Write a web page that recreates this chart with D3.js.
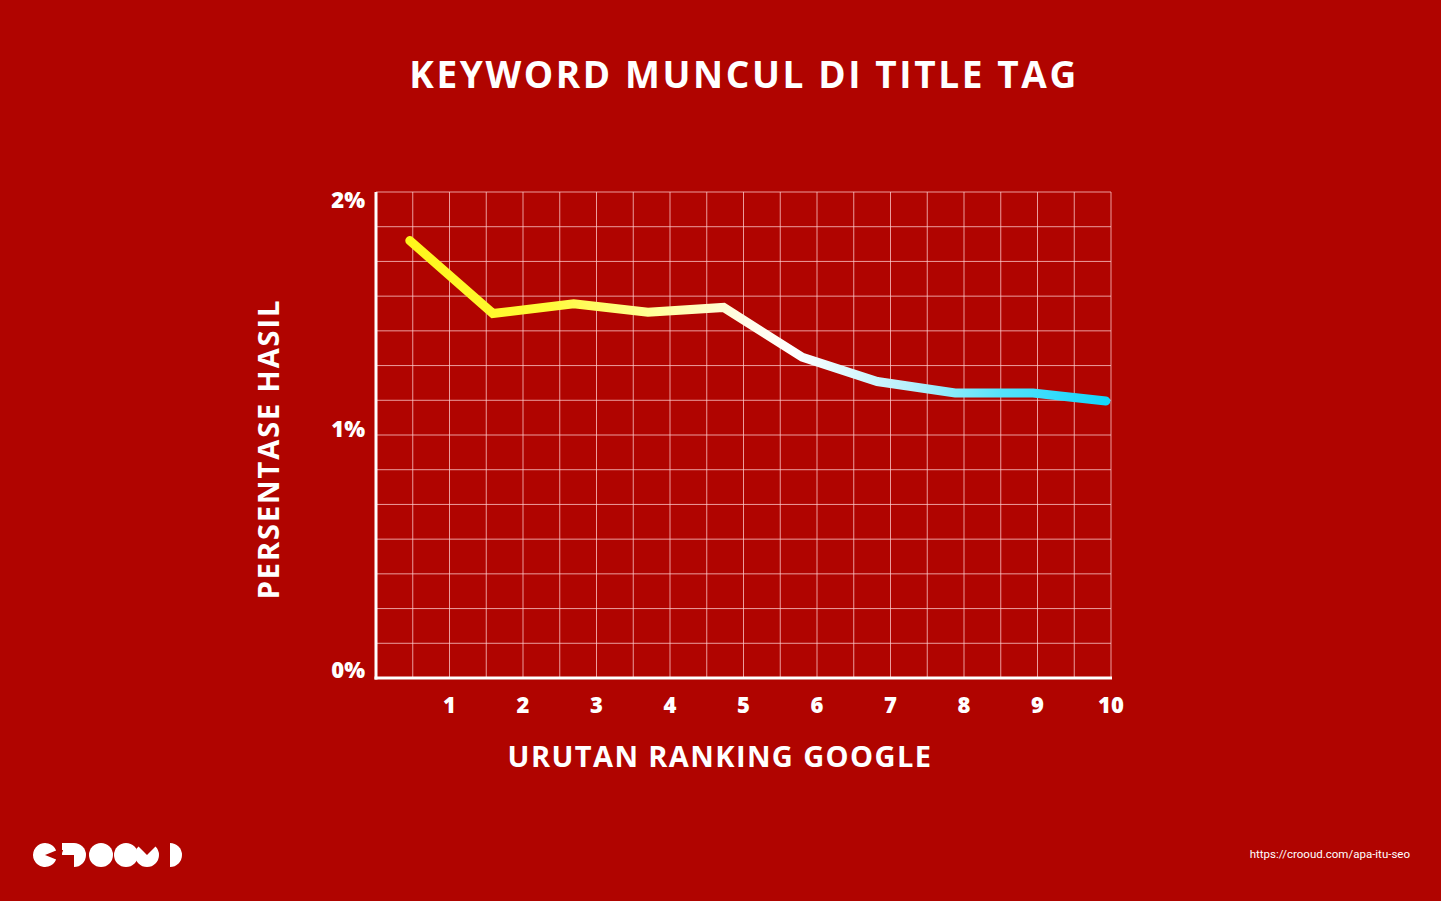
<!DOCTYPE html>
<html><head><meta charset="utf-8">
<script src="https://cdn.jsdelivr.net/npm/d3@7"></script>
<style>html,body{margin:0;padding:0;background:#b00400;overflow:hidden}</style>
</head><body><svg id="c" width="1441" height="901"></svg>
<script>
const title = "KEYWORD MUNCUL DI TITLE TAG";
const xTitle = "URUTAN RANKING GOOGLE";
const yTitle = "PERSENTASE HASIL";
const rankPos = [0.46, 1.59, 2.69, 3.70, 4.73, 5.80, 6.82, 7.88, 8.94, 9.93];
const percent = [1.80, 1.50, 1.54, 1.505, 1.525, 1.32, 1.22, 1.173, 1.173, 1.14];
const xTicks = [1,2,3,4,5,6,7,8,9,10];
const yTicks = [0,1,2];
const yTickLabels = ["0%","1%","2%"];
const url = "https://crooud.com/apa-itu-seo";

const svg = d3.select("#c");
svg.append("rect").attr("width",1441).attr("height",901).attr("fill","#b00400");
const L=376,R=1111,T=192,B=678;
const x = d3.scaleLinear().domain([0,10]).range([L,R]);
const y = d3.scaleLinear().domain([0,2]).range([B,T]);

// grid
const g = svg.append("g");
g.selectAll(".v").data(d3.range(0,10.01,0.5)).join("line")
 .attr("x1",d=>x(d)).attr("x2",d=>x(d)).attr("y1",T).attr("y2",B)
 .attr("stroke","#ffd0d0").attr("stroke-opacity",0.75).attr("stroke-width",1);
g.selectAll(".h").data(d3.range(0,2.001,1/7)).join("line")
 .attr("x1",L).attr("x2",R).attr("y1",d=>y(d)).attr("y2",d=>y(d))
 .attr("stroke","#ffd0d0").attr("stroke-opacity",0.75).attr("stroke-width",1);
// axes
svg.append("line").attr("x1",L).attr("x2",L).attr("y1",T).attr("y2",B+1.5).attr("stroke","#fff").attr("stroke-width",3);
svg.append("line").attr("x1",L-1.5).attr("x2",R+1).attr("y1",B).attr("y2",B).attr("stroke","#fff").attr("stroke-width",3);

const bold = "'Open Sans', 'Lato', sans-serif";
svg.selectAll(".xt").data(xTicks).join("text")
 .attr("x",d=>x(d)).attr("y",713).attr("text-anchor","middle")
 .attr("font-family",bold).attr("font-weight",800).attr("font-size",22).attr("fill","#fff").text(d=>d);
svg.selectAll(".yt").data(yTicks).join("text")
 .attr("x",365).attr("y",d=>y(d)+ [ -0.5, 2, 16][d]).attr("text-anchor","end")
 .attr("font-family",bold).attr("font-weight",800).attr("font-size",22).attr("fill","#fff")
 .text((d,i)=>yTickLabels[i]);

svg.append("text").attr("x",744).attr("y",88).attr("text-anchor","middle")
 .attr("font-family",bold).attr("font-weight",700).attr("font-size",37).attr("letter-spacing",2.6)
 .attr("fill","#fff").text(title);
svg.append("text").attr("x",720).attr("y",767).attr("text-anchor","middle")
 .attr("font-family",bold).attr("font-weight",700).attr("font-size",29).attr("letter-spacing",1.4)
 .attr("fill","#fff").text(xTitle);
svg.append("text").attr("transform","translate(279,449) rotate(-90)").attr("text-anchor","middle")
 .attr("font-family",bold).attr("font-weight",700).attr("font-size",29).attr("letter-spacing",1.9)
 .attr("fill","#fff").text(yTitle);

// gradient line
const defs = svg.append("defs");
const grad = defs.append("linearGradient").attr("id","lg").attr("gradientUnits","userSpaceOnUse")
 .attr("x1",x(rankPos[0])).attr("x2",x(rankPos[rankPos.length-1])).attr("y1",0).attr("y2",0);
[[0,"#fff51c"],[0.2,"#fffa3a"],[0.35,"#ffff9a"],[0.48,"#fffbe6"],[0.55,"#ffffff"],[0.72,"#b6f0fb"],[0.85,"#55e2fb"],[1,"#14d6fb"]]
 .forEach(s=>grad.append("stop").attr("offset",s[0]).attr("stop-color",s[1]));
const pts = rankPos.map((r,i)=>[r,percent[i]]);
svg.append("path").datum(pts)
 .attr("d",d3.line().x(d=>x(d[0])).y(d=>y(d[1])))
 .attr("fill","none").attr("stroke","url(#lg)").attr("stroke-width",9)
 .attr("stroke-linecap","round").attr("stroke-linejoin","miter");

// URL
svg.append("text").attr("x",1410).attr("y",858).attr("text-anchor","end")
 .attr("font-family","Roboto, Arial, sans-serif").attr("font-size",11.5).attr("fill","#fff").text(url);

// logo
const lg = svg.append("g").attr("fill","#fff");
const arc = d3.arc();
const r = 12, cy = 855;
lg.append("path").attr("transform",`translate(45,${cy})`).attr("d",arc({innerRadius:0,outerRadius:r,startAngle:Math.PI*0.62,endAngle:Math.PI*2.38}));
lg.append("path").attr("transform",`translate(74,${cy})`).attr("d",arc({innerRadius:0,outerRadius:r,startAngle:0,endAngle:Math.PI}));
lg.append("path").attr("transform",`translate(74,${cy})`).attr("d",arc({innerRadius:0,outerRadius:r,startAngle:-Math.PI*0.5,endAngle:0}));
lg.append("rect").attr("x",62).attr("y",cy-r).attr("width",12).attr("height",7);
lg.append("circle").attr("cx",101).attr("cy",cy).attr("r",r);
lg.append("circle").attr("cx",126).attr("cy",cy).attr("r",r);
lg.append("path").attr("transform",`translate(147,${cy})`).attr("d",arc({innerRadius:0,outerRadius:r,startAngle:Math.PI*0.25,endAngle:Math.PI*1.75}));
lg.append("path").attr("transform",`translate(170,${cy})`).attr("d",arc({innerRadius:0,outerRadius:r,startAngle:0,endAngle:Math.PI}));
</script></body></html>
